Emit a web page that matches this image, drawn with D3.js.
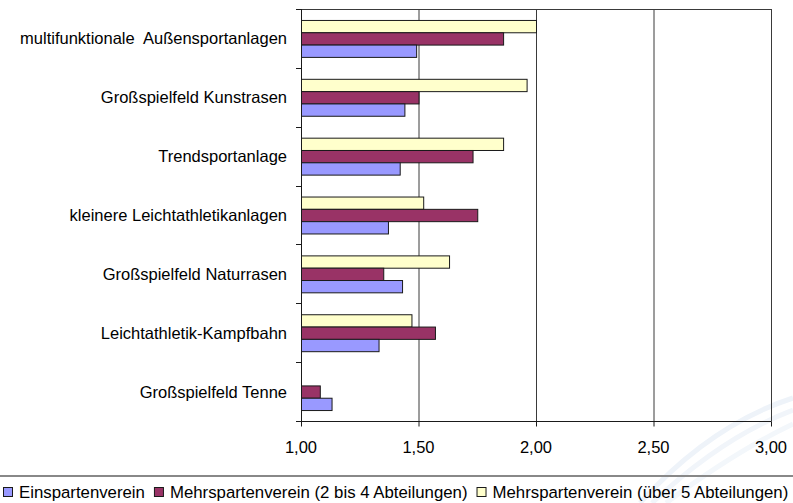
<!DOCTYPE html>
<html><head><meta charset="utf-8">
<script src="https://cdn.jsdelivr.net/npm/d3@7"></script>
<style>
html,body{margin:0;padding:0;background:#fff;}
svg{display:block;font-family:"Liberation Sans",Arial,sans-serif;}
</style></head>
<body>
<svg id="c" width="793" height="503"></svg>
<script>
const categories = [
  "multifunktionale  Außensportanlagen",
  "Großspielfeld Kunstrasen",
  "Trendsportanlage",
  "kleinere Leichtathletikanlagen",
  "Großspielfeld Naturrasen",
  "Leichtathletik-Kampfbahn",
  "Großspielfeld Tenne"
];
const seriesNames = [
  "Mehrspartenverein (über 5 Abteilungen)",
  "Mehrspartenverein (2 bis 4 Abteilungen)",
  "Einspartenverein"
];
const ueber5 = [2.00, 1.96, 1.86, 1.52, 1.63, 1.47, null];
const zweiBis4 = [1.86, 1.50, 1.73, 1.75, 1.35, 1.57, 1.08];
const einsparten = [1.49, 1.44, 1.42, 1.37, 1.43, 1.33, 1.13];
const xTicks = [1.0, 1.5, 2.0, 2.5, 3.0];
const legendOrder = ["Einspartenverein", "Mehrspartenverein (2 bis 4 Abteilungen)", "Mehrspartenverein (über 5 Abteilungen)"];
const colors = {
  "Einspartenverein": "#9999FF",
  "Mehrspartenverein (2 bis 4 Abteilungen)": "#993366",
  "Mehrspartenverein (über 5 Abteilungen)": "#FFFFCC"
};
const seriesValues = {
  "Mehrspartenverein (über 5 Abteilungen)": ueber5,
  "Mehrspartenverein (2 bis 4 Abteilungen)": zweiBis4,
  "Einspartenverein": einsparten
};

(function(){
const FS = 16.5;
const svg = d3.select("#c");

// faint watermark swoosh
const wm = svg.append("g").attr("fill","none");
[[0,"#eef3f9"],[12,"#f1f5fa"],[26,"#f3f7fb"]].forEach(([o,c])=>{
  wm.append("path").attr("d",`M ${640+o} 503 Q ${710+o} ${425+o} ${793} ${398+o}`)
    .attr("stroke",c).attr("stroke-width",5);
});

const pL = 301, pR = 771, pT = 9, pB = 421;
const x = d3.scaleLinear().domain([1, 3]).range([pL, pR]);
const y0 = d3.scaleBand().domain(categories).range([pT, pB]).padding(0);
const y1 = d3.scaleBand().domain(seriesNames).range([0, y0.bandwidth()]).paddingInner(0).paddingOuter(0.89);

// gridlines
svg.append("g").selectAll("line").data(xTicks.slice(1)).join("line")
  .attr("x1", d=>x(d)+0.5).attr("x2", d=>x(d)+0.5)
  .attr("y1", pT).attr("y2", pB)
  .attr("stroke", "#3a3a3a").attr("stroke-width", 1);
// top border
svg.append("line").attr("x1", pL-5).attr("x2", pR+0.5).attr("y1", pT+0.5).attr("y2", pT+0.5)
  .attr("stroke","#3a3a3a");

// bars
const g = svg.append("g");
categories.forEach((cat, i) => {
  seriesNames.forEach(s => {
    const v = seriesValues[s][i];
    if (v == null) return;
    g.append("rect")
      .attr("x", x(1) + 0.5)
      .attr("y", y0(cat) + y1(s) + 0.5)
      .attr("width", x(v) - x(1))
      .attr("height", y1.bandwidth())
      .attr("fill", colors[s])
      .attr("stroke", "#1a1a1a").attr("stroke-width", 1);
  });
});

// y axis
svg.append("line").attr("x1", pL+0.5).attr("x2", pL+0.5).attr("y1", pT).attr("y2", pB+5)
  .attr("stroke","#1a1a1a");
const bounds = categories.map(c => y0(c)).concat([pB]);
svg.append("g").selectAll("line").data(bounds).join("line")
  .attr("x1", pL-5).attr("x2", pL).attr("y1", d=>Math.round(d)+0.5).attr("y2", d=>Math.round(d)+0.5)
  .attr("stroke","#1a1a1a");
svg.append("g").selectAll("text").data(categories).join("text")
  .attr("x", 287).attr("y", d => y0(d)+y0.bandwidth()/2)
  .attr("text-anchor","end").attr("dominant-baseline","central")
  .style("white-space","pre")
  .attr("font-size", FS).attr("fill","#000")
  .text(d=>d);

// x axis
const xa = svg.append("g").attr("transform", `translate(0.5,${pB+0.5})`);
xa.append("line").attr("x1", pL).attr("x2", pR).attr("stroke","#1a1a1a");
xa.selectAll("line.t").data(xTicks).join("line").attr("class","t")
  .attr("x1", d=>x(d)).attr("x2", d=>x(d)).attr("y1",0).attr("y2",5).attr("stroke","#1a1a1a");
const fmt = d => d3.format(".2f")(d).replace(".", ",");
svg.append("g").selectAll("text").data(xTicks).join("text")
  .attr("x", d => x(d)).attr("y", 447)
  .attr("text-anchor","middle").attr("dominant-baseline","central")
  .attr("font-size", FS).attr("fill","#000")
  .text(fmt);

// separator line above legend
svg.append("line").attr("x1",0).attr("x2",793).attr("y1",476).attr("y2",476)
  .attr("stroke","#888").attr("stroke-width",2);

// legend
let lx = 3;
const lg = svg.append("g");
legendOrder.forEach(name => {
  lg.append("rect").attr("x", lx+0.5).attr("y", 487.5).attr("width", 9).attr("height", 9)
    .attr("fill", colors[name]).attr("stroke","#1a1a1a");
  const t = lg.append("text")
    .attr("x", lx+16).attr("y", 492)
    .attr("dominant-baseline","central").attr("font-size", 16.8).attr("fill","#000")
    .text(name);
  const w = t.node().getComputedTextLength();
  lx += 16 + w + 9;
});
})();
</script>
</body></html>
